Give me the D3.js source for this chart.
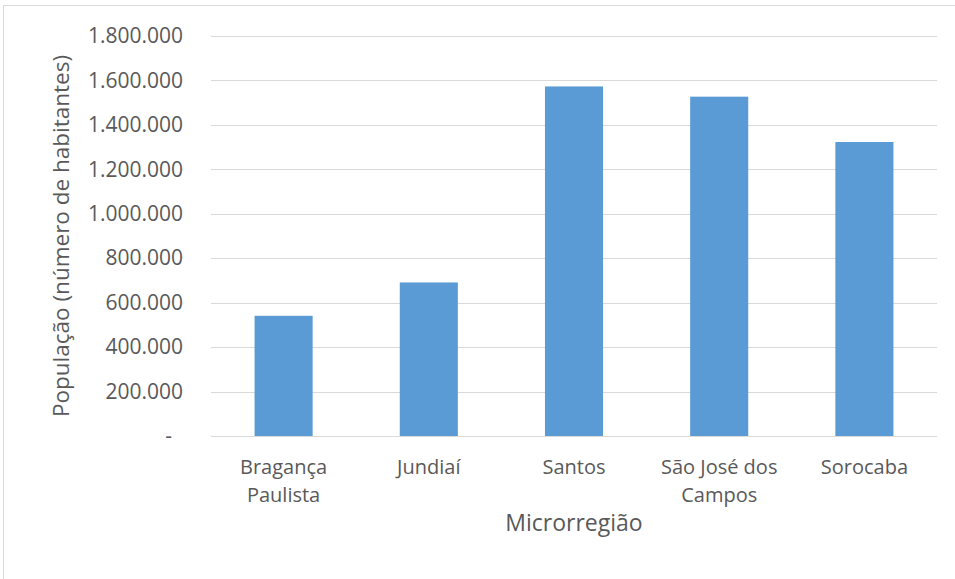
<!DOCTYPE html>
<html>
<head>
<meta charset="utf-8">
<script src="https://cdn.jsdelivr.net/npm/d3@7"></script>
<style>
  body { margin: 0; background: #fff; }
  text { font-family: "Open Sans", sans-serif; fill: #595959; }
</style>
</head>
<body>
<svg id="chart"></svg>
<script>
// data
const regions = ["Bragança Paulista", "Jundiaí", "Santos", "São José dos Campos", "Sorocaba"];
const regionLines = [["Bragança", "Paulista"], ["Jundiaí"], ["Santos"], ["São José dos", "Campos"], ["Sorocaba"]];
const population = [541000, 691000, 1573000, 1527000, 1323000];
const yTicks = [0, 200000, 400000, 600000, 800000, 1000000, 1200000, 1400000, 1600000, 1800000];

const W = 955, H = 579;
var margin = { top: 36, right: 18, bottom: 143, left: 211 },
  width = W - margin.left - margin.right,
  height = H - margin.top - margin.bottom;

const root = d3.select("#chart").attr("width", W).attr("height", H);

// chart frame
root.append("rect")
  .attr("x", 3.5).attr("y", 5.5)
  .attr("width", W + 10).attr("height", H + 10)
  .attr("fill", "none").attr("stroke", "#d9d9d9");

const svg = root.append("g")
  .attr("transform", "translate(" + margin.left + "," + margin.top + ")");

const x = d3.scaleBand().domain(regions).range([0, width]).paddingInner(0.6).paddingOuter(0.3);
const y = d3.scaleLinear().domain([0, 1800000]).range([height, 0]);

const fmt = d => d === 0 ? "-" : d3.format(",")(d).replace(/,/g, ".");

// gridlines
svg.selectAll(".grid")
  .data(yTicks)
  .join("line")
  .attr("x1", 0).attr("x2", width)
  .attr("y1", d => Math.round(y(d)) + 0.5).attr("y2", d => Math.round(y(d)) + 0.5)
  .attr("stroke", "#d9d9d9").attr("stroke-width", 1);

// y axis labels
const yAxis = svg.append("g")
  .call(d3.axisLeft(y).tickValues(yTicks).tickFormat(fmt).tickSize(0).tickPadding(28));
yAxis.select(".domain").remove();
yAxis.selectAll("text")
  .style("font-size", "21px")
  .attr("fill", "#595959")
  .attr("dx", d => d === 0 ? -11 : 0);

// bars
svg.selectAll(".bar")
  .data(population)
  .join("rect")
  .attr("x", (d, i) => x(regions[i]))
  .attr("y", d => y(d))
  .attr("width", x.bandwidth())
  .attr("height", d => height - y(d))
  .attr("fill", "#5b9bd5");

// x labels
const xl = svg.selectAll(".xl")
  .data(regions)
  .join("text")
  .attr("x", d => x(d) + x.bandwidth() / 2)
  .attr("y", height + 38)
  .attr("text-anchor", "middle")
  .style("font-size", "20px");
xl.selectAll("tspan")
  .data((d, i) => regionLines[i])
  .join("tspan")
  .attr("x", function () { return this.parentNode.getAttribute("x"); })
  .attr("dy", (d, i) => i === 0 ? 0 : 28)
  .text(d => d);

// axis titles
svg.append("text")
  .attr("x", width / 2)
  .attr("y", height + 95)
  .attr("text-anchor", "middle")
  .style("font-size", "23px")
  .text("Microrregião");

svg.append("text")
  .attr("transform", "rotate(-90)")
  .attr("x", -(236 - margin.top))
  .attr("y", 69 - margin.left)
  .attr("text-anchor", "middle")
  .style("font-size", "22.5px")
  .text("População (número de habitantes)");
</script>
</body>
</html>
